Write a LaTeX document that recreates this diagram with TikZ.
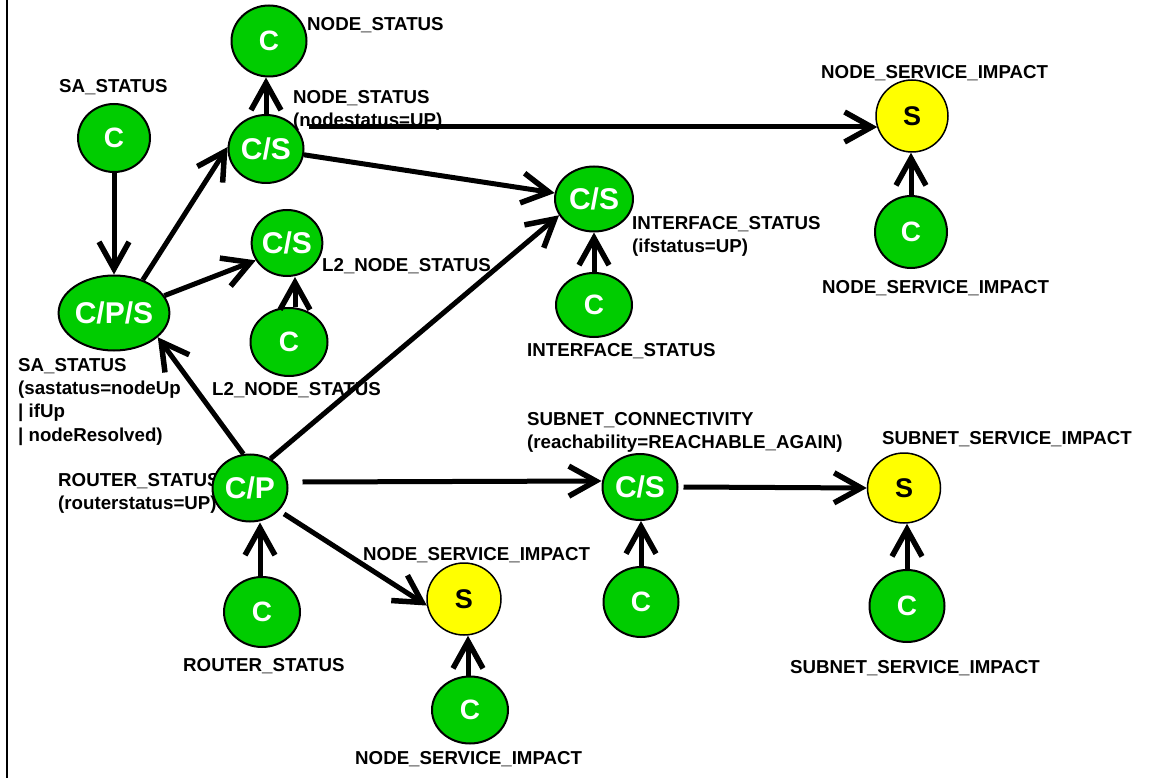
\documentclass[tikz,border=0pt]{standalone}
\usepackage{fontspec}
\setmainfont{Liberation Sans}
\usetikzlibrary{shapes.geometric,arrows.meta}
\definecolor{stategreen}{RGB}{0,204,0}
\definecolor{svcyellow}{RGB}{255,255,0}
\begin{document}
\begin{tikzpicture}[x=1pt,y=-1pt,
  lbl/.style={anchor=north west, inner sep=0pt, align=left,
    font=\fontsize{18.7}{23.3}\selectfont\bfseries},
  state/.style={ellipse, draw=black, line width=2pt, fill=stategreen, text=white,
    inner sep=0pt, font=\fontsize{28}{28}\selectfont\bfseries},
  svc/.style={ellipse, draw=black, line width=1.5pt, fill=svcyellow, text=black,
    inner sep=0pt, font=\fontsize{27}{27}\selectfont\bfseries},
  big/.style={font=\fontsize{30}{30}\selectfont\bfseries},
  sz/.style 2 args={minimum width=#1, minimum height=#2},
  arr/.style={line width=5pt,
    -{Straight Barb[length=27pt,width=30pt,line width=5.5pt]}}
]
\useasboundingbox (0,0) rectangle (1171,778);
\fill[white] (0,0) rectangle (1171,778);

% left frame edge
\draw[line width=2.5pt] (7,0) -- (7,778);

% ---- labels ----
\node[lbl] (tNtop)  at (307,17)  {NODE\_STATUS};
\node[lbl] (tSa)    at (59,79)   {SA\_STATUS};
\node[lbl] (tNcs)   at (293,90)  {NODE\_STATUS\\(nodestatus=UP)};
\node[lbl] (tNsi1)  at (821,65)  {NODE\_SERVICE\_IMPACT};
\node[lbl] (tIcs)   at (632,216) {INTERFACE\_STATUS\\(ifstatus=UP)};
\node[lbl] (tL2a)   at (322,258) {L2\_NODE\_STATUS};
\node[lbl] (tNsi1c) at (822,280) {NODE\_SERVICE\_IMPACT};
\node[lbl] (tIc)    at (527,343) {INTERFACE\_STATUS};
\node[lbl] (tSa2)   at (18,358)  {SA\_STATUS\\(sastatus=nodeUp\\| ifUp\\| nodeResolved)};
\node[lbl] (tL2b)   at (212,382) {L2\_NODE\_STATUS};
\node[lbl] (tSc)    at (527,412) {SUBNET\_CONNECTIVITY\\(reachability=REACHABLE\_AGAIN)};
\node[lbl] (tSs)    at (882,431) {SUBNET\_SERVICE\_IMPACT};
\node[lbl] (tRs)    at (58,473)  {ROUTER\_STATUS\\(routerstatus=UP)};
\node[lbl] (tNsi2)  at (363,547) {NODE\_SERVICE\_IMPACT};
\node[lbl] (tRc)    at (183,658) {ROUTER\_STATUS};
\node[lbl] (tSsc)   at (790,660) {SUBNET\_SERVICE\_IMPACT};
\node[lbl] (tNsi2c) at (355,751) {NODE\_SERVICE\_IMPACT};

% ---- state nodes ----
\node[state, sz={75pt}{71pt}] (ntop) at (269,41) {C};
\node[state, sz={72pt}{68pt}] (sac) at (114,138) {C};
\node[state, big, sz={75pt}{68pt}] (ncs) at (266,149) {C/S};
\node[state, big, sz={84pt}{75pt}] (cps) at (114,313) {C/P/S};
\node[state, big, sz={69pt}{66pt}] (l2cs) at (287,243) {C/S};
\node[state, sz={77pt}{68pt}] (l2c) at (289,342) {C};
\node[state, big, sz={78pt}{65pt}] (ics) at (594,199) {C/S};
\node[state, sz={76pt}{64pt}] (ic) at (594,305) {C};
\node[svc, sz={72pt}{72pt}] (nsi1s) at (912,116) {S};
\node[state, sz={72pt}{72pt}] (nsi1c) at (911,232) {C};
\node[state, big, sz={75pt}{67pt}] (cp) at (250,488) {C/P};
\node[state, big, sz={75pt}{66pt}] (scs) at (640,487) {C/S};
\node[svc, sz={73pt}{70pt}] (ss) at (904,488) {S};
\node[state, sz={76pt}{70pt}] (rc) at (262,612) {C};
\node[svc, sz={74pt}{72pt}] (nsi2s) at (464,599) {S};
\node[state, sz={76pt}{67pt}] (nsi2c) at (470,710) {C};
\node[state, sz={75pt}{70pt}] (sc) at (641,602) {C};
\node[state, sz={75pt}{72pt}] (ssc) at (907,606) {C};

% ---- connectors ----
\draw[arr] (sac) -- (cps);
\draw[arr] (cps.49) -- (ncs.177);
\draw[arr] (cps.19) -- (l2cs.209);
\draw[arr] ([xshift=6pt]l2c.north) -- ([xshift=6pt]l2c.north |- l2cs.south);
\draw[arr] (ncs.north) -- (ncs.north |- ntop.south);
\draw[arr] ([xshift=4pt,yshift=22pt]ncs.east) -- ([xshift=2pt,yshift=-11pt]nsi1s.west);
\draw[arr] (ncs) -- (ics);
\draw[arr] (cp.101) -- (cps.331);
\draw[arr] (cp.55) -- (ics.205);
\draw[arr] ([xshift=14pt,yshift=6pt]cp.east) -- ([yshift=6pt]scs.west);
\draw[arr] ([xshift=5pt]scs.east) -- (ss.west);
\draw[arr, shorten <=6pt] (cp.-38) -- (nsi2s.190);
\draw[arr] ([xshift=-2pt]rc.north) -- ([xshift=-2pt]rc.north |- cp.south);
\draw[arr] ([xshift=-2pt]nsi2c.north) -- ([xshift=-2pt]nsi2c.north |- nsi2s.south);
\draw[arr] (sc.north) -- (sc.north |- scs.south);
\draw[arr] (ssc.north) -- (ssc.north |- ss.south);
\draw[arr] (ic.north) -- (ic.north |- ics.south);
\draw[arr] (nsi1c.north) -- (nsi1c.north |- nsi1s.south);
\end{tikzpicture}
\end{document}
